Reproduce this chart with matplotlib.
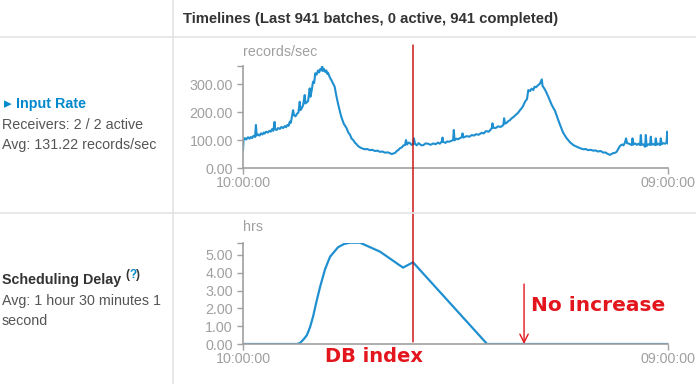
import matplotlib

matplotlib.use("Agg")
import matplotlib.pyplot as plt  # noqa: E402
from matplotlib.lines import Line2D  # noqa: E402
from matplotlib.patches import ConnectionPatch  # noqa: E402

# input rate (records/sec), hours after 10:00:00
rate_hours = [
    0.00, 0.03, 0.10, 0.17, 0.27, 0.35, 0.42, 0.49, 0.56, 0.65,
    0.70, 0.74, 0.82, 0.90, 0.97, 1.05, 1.12, 1.17, 1.25, 1.35,
    1.42, 1.50, 1.57, 1.64, 1.71, 1.74, 1.82, 1.90, 2.00, 2.08,
    2.17, 2.26, 2.33, 2.40, 2.47, 2.53, 2.59, 2.65, 2.71, 2.76,
    2.84, 2.92, 3.00, 3.07, 3.11, 3.18, 3.25, 3.34, 3.38, 3.45,
    3.52, 3.61, 3.65, 3.72, 3.79, 3.85, 3.91, 3.98, 4.06, 4.12,
    4.18, 4.24, 4.28, 4.33, 4.38, 4.45, 4.51, 4.56, 4.60, 4.70,
    4.78, 4.86, 4.96, 5.02, 5.10, 5.20, 5.32, 5.45, 5.61, 5.70,
    5.79, 5.88, 5.97, 6.05, 6.12, 6.22, 6.33, 6.45, 6.60, 6.72,
    6.87, 7.00, 7.14, 7.28, 7.41, 7.55, 7.68, 7.85, 8.05, 8.15,
    8.23, 8.32, 8.40, 8.50, 8.60, 8.68, 8.77, 8.82, 8.88, 8.96,
    9.04, 9.12, 9.22, 9.25, 9.31, 9.40, 9.50, 9.58, 9.66, 9.76,
    9.88, 10.01, 10.15, 10.30, 10.42, 10.55, 10.65, 10.75, 10.80, 10.82,
    10.95, 11.05, 11.16, 11.27, 11.37, 11.41, 11.45, 11.55, 11.64, 11.74,
    11.84, 11.88, 11.93, 12.02, 12.12, 12.25, 12.38, 12.50, 12.61, 12.75,
    12.92, 13.03, 13.15, 13.30, 13.46, 13.50, 13.55, 13.67, 13.80, 13.95,
    14.09, 14.13, 14.18, 14.26, 14.34, 14.44, 14.54, 14.65, 14.77, 14.88,
    14.99, 15.07, 15.15, 15.26, 15.37, 15.44, 15.53, 15.62, 15.71, 15.78,
    15.86, 15.98, 16.07, 16.17, 16.21, 16.34, 16.44, 16.56, 16.72, 16.89,
    17.02, 17.16, 17.32, 17.52, 17.70, 17.88, 18.00, 18.13, 18.28, 18.42,
    18.55, 18.67, 18.82, 18.96, 19.08, 19.21, 19.35, 19.50, 19.60, 19.70,
    19.86, 20.02, 20.12, 20.22, 20.40, 20.51, 20.59, 20.67, 20.73, 20.78,
    20.90, 21.04, 21.08, 21.13, 21.22, 21.32, 21.40, 21.49, 21.53, 21.57,
    21.66, 21.76, 21.80, 21.84, 21.94, 22.03, 22.07, 22.11, 22.20, 22.30,
    22.34, 22.39, 22.48, 22.57, 22.61, 22.66, 22.75, 22.84, 22.92, 22.96,
    23.00,
]
rate_values = [
    65, 101, 108, 103, 111, 106, 112, 108, 116, 112,
    155, 117, 121, 117, 125, 121, 128, 124, 131, 128,
    134, 131, 140, 134, 166, 140, 137, 144, 141, 148,
    144, 151, 147, 155, 152, 167, 163, 185, 208, 190,
    186, 195, 200, 238, 208, 215, 225, 262, 232, 236,
    240, 286, 256, 280, 310, 305, 340, 335, 350, 343,
    355, 350, 366, 348, 356, 345, 350, 338, 342, 325,
    316, 305, 292, 270, 244, 215, 184, 160, 143, 128,
    120, 106, 101, 92, 88, 80, 75, 71, 68, 69,
    65, 66, 62, 63, 59, 60, 56, 57, 51, 53,
    55, 62, 65, 72, 75, 82, 83, 101, 85, 92,
    90, 84, 87, 107, 88, 82, 90, 86, 82, 83,
    89, 88, 84, 89, 86, 92, 88, 95, 110, 95,
    91, 96, 95, 98, 101, 137, 100, 106, 104, 108,
    111, 125, 110, 113, 115, 113, 119, 117, 122, 120,
    127, 125, 133, 131, 143, 161, 145, 144, 150, 148,
    155, 179, 160, 162, 168, 172, 179, 184, 192, 198,
    208, 214, 222, 238, 248, 280, 276, 285, 280, 292,
    290, 298, 303, 318, 295, 282, 268, 250, 225, 205,
    180, 155, 128, 107, 93, 83, 79, 75, 71, 68,
    69, 65, 66, 63, 64, 60, 62, 56, 57, 53,
    48, 54, 55, 59, 80, 85, 82, 92, 107, 90,
    88, 83, 107, 85, 89, 84, 88, 83, 119, 84,
    86, 77, 119, 80, 86, 84, 113, 84, 87, 83,
    107, 84, 88, 83, 107, 86, 90, 88, 92, 131,
    89,
]

# scheduling delay (hrs)
delay_hours = [0.00, 2.92, 3.08, 3.27, 3.46, 3.63, 3.79, 3.98, 4.17, 4.44,
               4.71, 5.14, 5.47, 5.79, 6.33, 7.41, 8.66, 9.20, 13.21, 23.00]
delay_values = [0, 0, 0.05, 0.25, 0.5, 0.95, 1.53, 2.4, 3.2, 4.2,
                4.9, 5.43, 5.62, 5.69, 5.69, 5.19, 4.29, 4.59, 0, 0]

time_ticks = [0, 23]
time_labels = ["10:00:00", "09:00:00"]
rate_ticks = [0, 100, 200, 300]
rate_max = 366
delay_ticks = [0, 1, 2, 3, 4, 5]
delay_max = 5.69

db_index_hour = 9.2
no_increase_hour = 15.21
no_increase_from = 3.37

BLUE = "#1f8fd0"
RED = "#e3161d"
GREY = "#a0a0a0"

plt.rcParams["font.family"] = ["Liberation Sans", "DejaVu Sans"]

fig = plt.figure(figsize=(6.96, 3.84), dpi=100)
W, H = 696, 384


def px_axes(left, top, right, bottom):
    return fig.add_axes([left / W, 1 - bottom / H, (right - left) / W, (bottom - top) / H])


def style_axis(ax, yticks, ymax):
    ax.set_xlim(time_ticks[0], time_ticks[-1])
    ax.set_ylim(0, ymax)
    for s in ("top", "right"):
        ax.spines[s].set_visible(False)
    for s in ("left", "bottom"):
        ax.spines[s].set_color(GREY)
        ax.spines[s].set_linewidth(1.2)
    ax.set_xticks(time_ticks)
    ax.set_xticklabels(time_labels)
    ax.set_yticks(yticks)
    ax.set_yticklabels([f"{v:.2f}" for v in yticks])
    ax.set_yticks([ymax], minor=True)
    ax.tick_params(which="both", direction="out", length=4.3, width=1, color=GREY,
                   labelcolor=GREY, labelsize=10.3)
    ax.tick_params(axis="y", pad=3)
    ax.tick_params(axis="x", pad=1.5)
    ax.set_facecolor("none")


# table lines
for y in (36.7, 212.7):
    fig.add_artist(Line2D([0, 1], [1 - y / H, 1 - y / H], transform=fig.transFigure,
                          color="#e4e4e4", lw=1.2))
fig.add_artist(Line2D([173 / W, 173 / W], [0, 1], transform=fig.transFigure,
                      color="#e4e4e4", lw=1.2))

fig.text(183 / W, 1 - 18.6 / H, "Timelines (Last 941 batches, 0 active, 941 completed)",
         family=["Liberation Sans Narrow", "Liberation Sans"], weight="bold",
         fontsize=10.7, color="#333333", va="center", ha="left")

# input rate chart
ax1 = px_axes(243, 66, 668, 168.3)
ax1.plot(rate_hours, rate_values, color=BLUE, lw=1.5)
style_axis(ax1, rate_ticks, rate_max)
fig.text(243 / W, 1 - 52 / H, "records/sec", fontsize=10.3, color=GREY, va="center", ha="left")

# scheduling delay chart
ax2 = px_axes(243, 242.7, 668, 344)
ax2.plot(delay_hours, delay_values, color=BLUE, lw=1.6, solid_capstyle="butt")
style_axis(ax2, delay_ticks, delay_max)
fig.text(243 / W, 1 - 227 / H, "hrs", fontsize=10.3, color=GREY, va="center", ha="left")

# left column
fig.text(4 / W, 1 - 104 / H, "\u25b8", family=["DejaVu Sans"], fontsize=11, color="#0088cc",
         va="center", ha="left")
fig.text(16 / W, 1 - 104 / H, "Input Rate", weight="bold", fontsize=10.3, color="#0088cc",
         va="center", ha="left")
fig.text(2 / W, 1 - 125 / H, "Receivers: 2 / 2 active", fontsize=10.3, color="#555555",
         va="center", ha="left")
fig.text(2 / W, 1 - 145 / H, "Avg: 131.22 records/sec", fontsize=10.3, color="#555555",
         va="center", ha="left")

t1 = fig.text(2 / W, 1 - 280 / H, "Scheduling Delay", weight="bold", fontsize=10.3,
              color="#333333", va="center", ha="left")
a1 = ax2.annotate("(", xy=(1, 1), xycoords=t1, xytext=(3, 3), textcoords="offset points",
                  weight="bold", fontsize=8.5, color="#333333", va="top", ha="left",
                  annotation_clip=False)
a2 = ax2.annotate("?", xy=(1, 0), xycoords=a1, weight="bold", fontsize=8.5,
                  color="#0088cc", va="bottom", ha="left", annotation_clip=False)
ax2.annotate(")", xy=(1, 0), xycoords=a2, weight="bold", fontsize=8.5,
             color="#333333", va="bottom", ha="left", annotation_clip=False)
fig.text(2 / W, 1 - 301.5 / H, "Avg: 1 hour 30 minutes 1", fontsize=10.3, color="#555555",
         va="center", ha="left")
fig.text(2 / W, 1 - 321 / H, "second", fontsize=10.3, color="#555555",
         va="center", ha="left")

# annotations
con = ConnectionPatch(xyA=(db_index_hour, 1.205), coordsA=ax1.get_xaxis_transform(),
                      xyB=(db_index_hour, 0.12), coordsB=ax2.transData,
                      color="#c80000", lw=1.0)
fig.add_artist(con)
ax2.annotate("", xy=(no_increase_hour, 0), xytext=(no_increase_hour, no_increase_from),
             arrowprops=dict(arrowstyle="->, head_length=0.6, head_width=0.3", color=RED,
                             lw=1.0, shrinkA=0, shrinkB=0, mutation_scale=10))
ax2.text(no_increase_hour + 0.38, 2.19, "No increase", color=RED, weight="bold",
         family=["DejaVu Sans"], fontsize=14.5, va="center", ha="left")
ax2.text(4.44, -0.73, "DB index", color=RED, weight="bold", family=["DejaVu Sans"],
         fontsize=14, va="center", ha="left", clip_on=False)

fig.savefig("out.png", dpi=100)
